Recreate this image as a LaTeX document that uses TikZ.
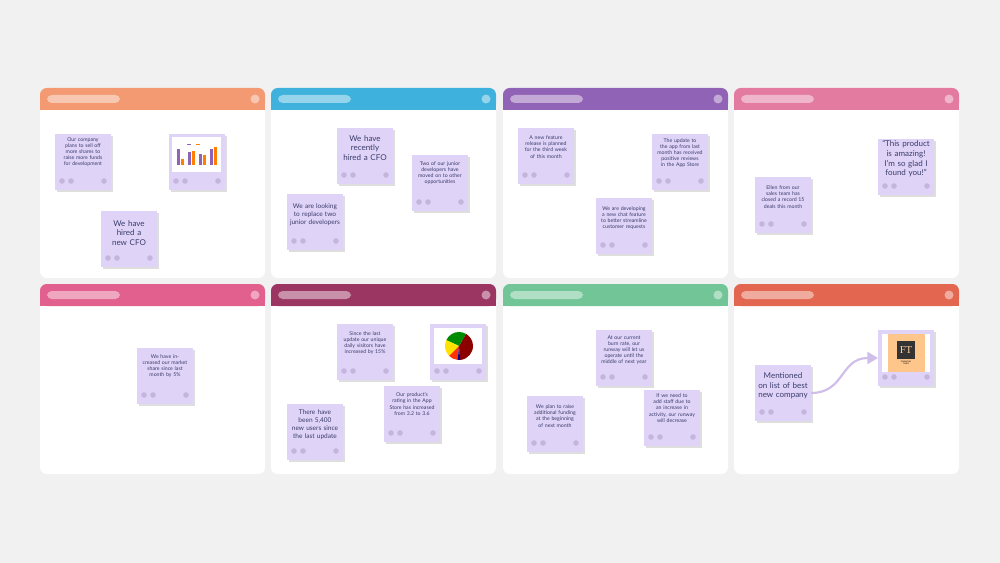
\documentclass[tikz,border=0pt]{standalone}
\usepackage{fontspec}
\setmainfont{Lato}
\usetikzlibrary{arrows.meta}
\definecolor{bg}{HTML}{F1F1F2}
\definecolor{notefill}{HTML}{DFD3F7}
\definecolor{dotc}{HTML}{C4B5DD}
\definecolor{ink}{HTML}{3A3D6B}
\definecolor{cA}{HTML}{F39A73}
\definecolor{cB}{HTML}{3EB1DC}
\definecolor{cC}{HTML}{9163B6}
\definecolor{cD}{HTML}{E37A9F}
\definecolor{cE}{HTML}{E2608E}
\definecolor{cF}{HTML}{9B3663}
\definecolor{cG}{HTML}{72C597}
\definecolor{cH}{HTML}{E26650}
\tikzset{
  notebox/.style={fill=notefill, minimum width=42pt, minimum height=42pt, inner sep=0pt, anchor=north west},
  smalltxt/.style={text=ink, font=\fontsize{3.9}{4.6}\selectfont, text width=36pt, align=center},
  bigtxt/.style={text=ink, font=\fontsize{6}{7.2}\selectfont, text width=38pt, align=center},
}
\newcommand{\panel}[3]{% x, y, colour
  \fill[white,rounded corners=5pt] (#1,#2) rectangle ++(225,190);
  \fill[#3,rounded corners=5pt] (#1,#2) rectangle ++(225,22);
  \fill[#3] (#1,#2+10) rectangle ++(225,12);
  \fill[white,opacity=0.45,rounded corners=3.5pt] (#1+7,#2+7) rectangle ++(73,8);
  \fill[white,opacity=0.45] (#1+215,#2+11) circle (4.5);
}
\newcommand{\stick}[3]{% name, x, y
  \fill[black!25,opacity=0.5] (#2+1.5,#3+2) rectangle ++(56,56);
  \node[notebox] (#1) at (#2,#3) {};
  \fill[dotc] (#2+7,#3+47) circle (2.8) (#2+16,#3+47) circle (2.8) (#2+49,#3+47) circle (2.8);
}
\begin{document}
\begin{tikzpicture}[x=0.75pt,y=-0.75pt]
\fill[bg] (0,0) rectangle (1000,563);
\useasboundingbox (0,0) rectangle (1000,563);
\panel{40}{88}{cA}\panel{271}{88}{cB}\panel{503}{88}{cC}\panel{734}{88}{cD}
\panel{40}{284}{cE}\panel{271}{284}{cF}\panel{503}{284}{cG}\panel{734}{284}{cH}
% panel 1
\stick{n1}{55}{134}\node[smalltxt] at (83,152) {Our company plans to sell off more shares to raise more funds for development};
\stick{n2}{169}{134}
\fill[white] (172,137) rectangle (221,172);
\foreach \i/\a/\b in {0/16/6,1/13/14,2/11/10,3/16/18}{
  \fill[cC] (177+\i*11,165-\a) rectangle ++(3,\a);
  \fill[orange] (180.5+\i*11,165-\b) rectangle ++(3,\b);}
\fill[cC] (187,144) rectangle ++(4,1.5);\fill[orange] (196,144) rectangle ++(4,1.5);
\stick{n3}{101}{211}\node[bigtxt] at (129,233) {We have hired a new CFO};
% panel 2
\stick{n4}{337}{128}\node[bigtxt] at (365,148) {We have recently hired a CFO};
\stick{n5}{412}{155}\node[smalltxt] at (440,173) {Two of our junior developers have moved on to other opportunities};
\stick{n6}{287}{194}\node[bigtxt,font=\fontsize{4.9}{6}\selectfont] at (315,215) {We are looking to replace two junior developers};
% panel 3
\stick{n7}{518}{128}\node[smalltxt] at (546,147) {A new feature release is planned for the third week of this month};
\stick{n8}{652}{134}\node[smalltxt] at (680,153) {The update to the app from last month has received positive reviews in the App Store};
\stick{n9}{596}{198}\node[smalltxt,text width=40pt] at (624,218) {We are developing a new chat feature to better streamline customer requests};
% panel 4
\stick{n10}{878}{139}\node[bigtxt] at (906,159) {“This product is amazing! I'm so glad I found you!”};
\stick{n11}{755}{177}\node[smalltxt] at (783,197) {Ellen from our sales team has closed a record 15 deals this month};
% row 2 panel 1
\stick{n12}{137}{348}\node[smalltxt] at (165,366) {We have increased our market share since last month by 5\%};
% row 2 panel 2
\stick{n13}{337}{324}\node[smalltxt] at (365,343) {Since the last update our unique daily visitors have increased by 15\%};
\stick{n14}{430}{324}
\fill[white] (434,328) rectangle (482,364);
\fill[red!55!black] (459,346) -- ++(85:14) arc (85:-60:14) -- cycle;
\fill[green!55!black] (459,346) -- ++(-60:14) arc (-60:-155:14) -- cycle;
\fill[yellow!85!orange] (459,346) -- ++(-155:14) arc (-155:-225:14) -- cycle;
\fill[red!60!orange] (459,346) -- ++(135:14) arc (135:95:14) -- cycle;
\fill[blue!60!black] (459,346) -- ++(95:14) arc (95:85:14) -- cycle;
\stick{n15}{384}{386}\node[smalltxt] at (412,404) {Our product's rating in the App Store has increased from 3.2 to 3.6};
\stick{n16}{287}{404}\node[bigtxt,font=\fontsize{4.9}{6}\selectfont] at (315,425) {There have been 5,400 new users since the last update};
% row 2 panel 3
\stick{n17}{596}{330}\node[smalltxt] at (624,350) {At our current burn rate, our runway will let us operate until the middle of next year};
\stick{n18}{527}{396}\node[smalltxt] at (555,416) {We plan to raise additional funding at the beginning of next month};
\stick{n19}{644}{390}\node[smalltxt] at (672,408) {If we need to add staff due to an increase in activity, our runway will decrease};
% row 2 panel 4
\stick{n20}{755}{365}\node[bigtxt] at (783,386) {Mentioned on list of best new company};
\stick{n21}{878}{330}
\fill[white] (882,334) rectangle (930,372);
\fill[orange!45] (888,334) rectangle (925,372);
\fill[black!80] (897,341) rectangle (915,359);
\node[text=orange!40, font=\fontsize{8}{8}\selectfont\setmainfont{Liberation Serif}] at (906,350) {FT};
\node[font=\fontsize{1.5}{1.8}\selectfont, align=center] at (906,363) {FINANCIAL\\TIMES};
\coordinate (a1) at (811,393);
\coordinate (a2) at (878,358);
\draw[notefill!80!cC, line width=1.6pt, -{Triangle[length=8pt,width=9pt]}] (a1) .. controls (845,393) and (840,358) .. (a2);
\end{tikzpicture}
\end{document}
